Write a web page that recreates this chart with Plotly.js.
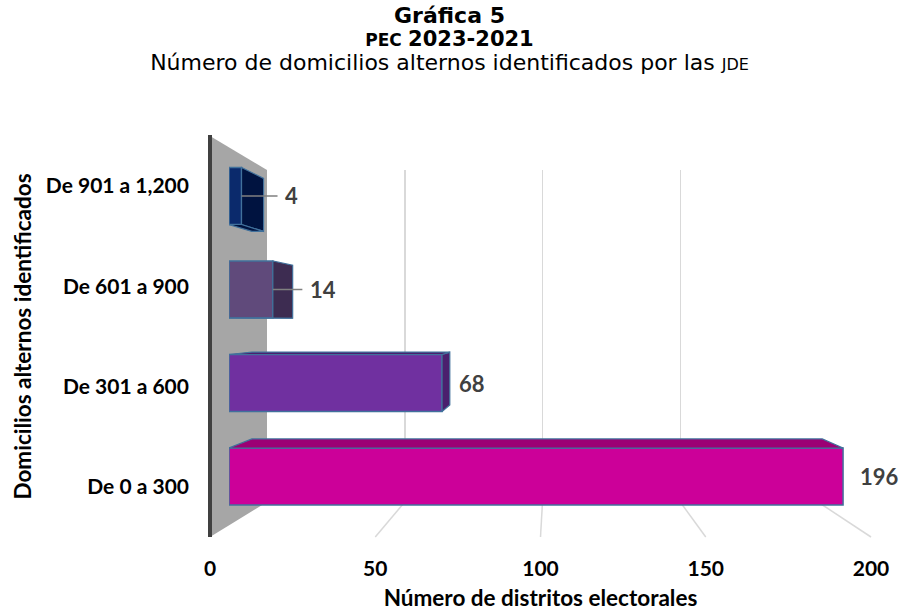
<!DOCTYPE html>
<html><head><meta charset="utf-8">
<script src="https://cdn.plot.ly/plotly-3.0.1.min.js"></script>
<style>html,body{margin:0;padding:0;background:#fff}#chart{width:899px;height:613px}</style>
</head><body><div id="chart"></div>
<script>
// ---------------- data ----------------
const categories = ['De 0 a 300', 'De 301 a 600', 'De 601 a 900', 'De 901 a 1,200'];
const values = [196, 68, 14, 4];
const xTicks = [0, 50, 100, 150, 200];
const xTickLabels = ['0', '50', '100', '150', '200'];

const titleLine1 = 'Gráfica 5';
const titleLine2a = 'PEC';
const titleLine2b = '2023-2021';
const titleLine3a = 'Número de domicilios alternos identificados por las ';
const titleLine3b = 'JDE';
const xTitle = 'Número de distritos electorales';
const yTitle = 'Domicilios alternos identificados';

// ---------------- styles ----------------
const frontColors = ['#CC0099', '#7030A0', '#604A7B', '#0B2A6C'];
const faceColors  = ['#9C0074', '#4B1F6E', '#3D2C51', '#001340'];
const edgeColor = '#41719C';
const gridColor = '#D9D9D9';

// ---------------- geometry (pixels) ----------------
const W = 899, H = 613;
const FRONT = {x0: 210, x1: 871, y0: 136, y1: 537};   // front plane (axis labels)
const BACK  = {x0: 267, x1: 818, y0: 170, y1: 502};   // back wall (gridlines)
const BARS  = {x0: 229, x1: 855.6, y0: 149.25, y1: 523.25}; // bar front faces
const VP = {x: 551, y: 321};
const DEPTH = 0.0712;
const BAR_W = 0.61;
const X_MAX = 200;

const fx = p => p / W;
const fy = p => 1 - p / H;
const domX = (a, b) => [fx(a), fx(b)];
const domY = (top, bottom) => [fy(bottom), fy(top)];

const idx = categories.map((c, i) => i);
const yRange = [-0.5, categories.length - 0.5];

// vanishing point in the bar axes' data units
const vx = (VP.x - BARS.x0) / (BARS.x1 - BARS.x0) * X_MAX;
const vy = yRange[0] + (BARS.y1 - VP.y) / (BARS.y1 - BARS.y0) * (yRange[1] - yRange[0]);
const back = (x, y) => [x + DEPTH * (vx - x), y + DEPTH * (vy - y)];

// ---------------- traces ----------------
const traces = [];
traces.push({type: 'scatter', xaxis: 'x', yaxis: 'y', x: xTicks, y: xTicks.map(() => 0.5),
  mode: 'markers', marker: {opacity: 0}, hoverinfo: 'skip', showlegend: false});

traces.push({type: 'bar', orientation: 'h', xaxis: 'x2', yaxis: 'y2',
  x: values, y: idx, width: BAR_W,
  marker: {color: frontColors, line: {color: edgeColor, width: 1.5}},
  hoverinfo: 'skip', showlegend: false});

values.forEach((v, i) => {
  const lo = i - BAR_W / 2, hi = i + BAR_W / 2;
  const polys = [];
  if (v < vx) polys.push([[v, lo], [v, hi], back(v, hi), back(v, lo)]);
  if (hi < vy) polys.push([[0, hi], [v, hi], back(v, hi), back(0, hi)]);
  if (lo > vy) polys.push([[0, lo], [v, lo], back(v, lo), back(0, lo)]);
  polys.forEach(p => {
    const pts = p.concat([p[0]]);
    traces.push({type: 'scatter', xaxis: 'x2', yaxis: 'y2',
      x: pts.map(q => q[0]), y: pts.map(q => q[1]),
      mode: 'lines', fill: 'toself', fillcolor: faceColors[i],
      line: {color: edgeColor, width: 1.2}, hoverinfo: 'skip', showlegend: false});
  });
});

traces.push({type: 'scatter', xaxis: 'x3', yaxis: 'y3', x: values, y: idx,
  mode: 'markers', marker: {opacity: 0}, hoverinfo: 'skip', showlegend: false});

// ---------------- shapes ----------------
const shapes = [];
shapes.push({type: 'path', xref: 'paper', yref: 'paper', layer: 'below',
  path: `M ${fx(FRONT.x0)} ${fy(FRONT.y0)} L ${fx(BACK.x0)} ${fy(BACK.y0)} L ${fx(BACK.x0)} ${fy(BACK.y1)} L ${fx(FRONT.x0)} ${fy(FRONT.y1)} Z`,
  fillcolor: '#A6A6A6', line: {width: 0}});
shapes.push({type: 'line', xref: 'paper', yref: 'paper', layer: 'below',
  x0: fx(FRONT.x0), x1: fx(FRONT.x0), y0: fy(FRONT.y0 - 1), y1: fy(FRONT.y1),
  line: {color: '#404040', width: 4}});
xTicks.filter(t => t > 0).forEach(t => {
  const bx = BACK.x0 + t / X_MAX * (BACK.x1 - BACK.x0);
  const ffx = FRONT.x0 + t / X_MAX * (FRONT.x1 - FRONT.x0);
  shapes.push({type: 'line', xref: 'paper', yref: 'paper', layer: 'below',
    x0: fx(bx), y0: fy(BACK.y1), x1: fx(ffx), y1: fy(FRONT.y1),
    line: {color: gridColor, width: 1.5}});
});

// ---------------- data labels ----------------
const labelFont = {family: 'Lato', size: 22, color: '#404040', weight: 'bold'};
const annotations = values.map((v, i) => {
  const a = {xref: 'x2', yref: 'y2', x: v, y: i, text: String(v), font: labelFont};
  if (v < 30) {
    Object.assign(a, {showarrow: true, arrowhead: 0, arrowwidth: 1.5, arrowcolor: '#808080',
      ax: 50, ay: 0, xanchor: 'center', startstandoff: 6});
  } else {
    Object.assign(a, {showarrow: false, xanchor: 'left', xshift: 15});
  }
  return a;
});

const titleText =
  `<b><span style="font-size:22px">${titleLine1}</span></b><br>` +
  `<b><span style="font-size:17px">${titleLine2a}</span> <span style="font-size:21px">${titleLine2b}</span></b><br>` +
  `<span style="font-size:22px">${titleLine3a}</span><span style="font-size:16px">${titleLine3b}</span>`;

const catFont = {family: 'Lato', size: 21, color: '#000', weight: 'bold'};
const axTitleFont = {family: 'Lato', size: 22.5, color: '#000', weight: 'bold'};

const layout = {
  width: W, height: H,
  margin: {l: 0, r: 0, t: 0, b: 0},
  paper_bgcolor: '#fff', plot_bgcolor: 'rgba(0,0,0,0)',
  showlegend: false,
  title: {text: titleText, x: 0.5, xanchor: 'center', xref: 'paper',
    y: 1 - 23 / H, yref: 'container', yanchor: 'top',
    font: {family: 'DejaVu Sans', size: 18, color: '#000'}},
  xaxis: {domain: domX(BACK.x0, BACK.x1), range: [0, X_MAX], anchor: 'y',
    tickvals: xTicks.filter(t => t > 0), showticklabels: false, ticks: '',
    showgrid: true, gridcolor: gridColor, gridwidth: 1.5, zeroline: false, showline: false, fixedrange: true},
  yaxis: {domain: domY(BACK.y0, BACK.y1), range: [0, 1], anchor: 'x', visible: false, fixedrange: true},
  xaxis2: {domain: domX(BARS.x0, BARS.x1), range: [0, X_MAX], anchor: 'y2', visible: false, fixedrange: true},
  yaxis2: {domain: domY(BARS.y0, BARS.y1), range: yRange, anchor: 'x2', visible: false, fixedrange: true},
  xaxis3: {domain: domX(FRONT.x0, FRONT.x1), range: [0, X_MAX], anchor: 'y3',
    tickvals: xTicks, ticktext: xTickLabels, ticks: '', ticklabelstandoff: 17,
    tickfont: {family: 'Lato', size: 21, color: '#000', weight: 'bold'},
    showgrid: false, zeroline: false, showline: false, fixedrange: true,
    title: {text: xTitle, standoff: 11, font: axTitleFont}},
  yaxis3: {domain: domY(FRONT.y0, FRONT.y1), range: yRange, anchor: 'x3',
    tickvals: idx, ticktext: categories, ticks: '', ticklabelstandoff: 20,
    tickfont: catFont, showgrid: false, zeroline: false, showline: false, fixedrange: true,
    title: {text: yTitle, standoff: 7, font: axTitleFont}},
  shapes: shapes,
  annotations: annotations
};

Plotly.newPlot('chart', traces, layout, {displayModeBar: false, staticPlot: true});
</script>
</body></html>
